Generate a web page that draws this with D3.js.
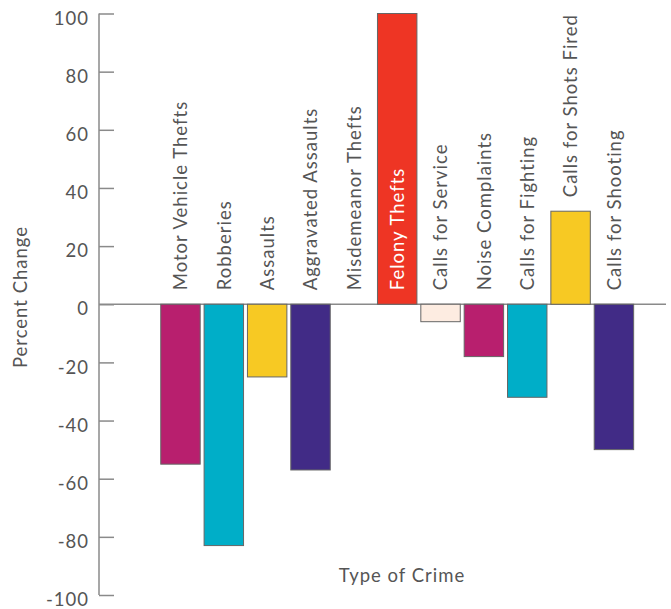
<!DOCTYPE html>
<html>
<head>
<meta charset="utf-8">
<script src="https://cdn.jsdelivr.net/npm/d3@7"></script>
<style>
  html, body { margin: 0; padding: 0; background: #fff; }
  svg { display: block; font-family: Lato, "Open Sans", sans-serif; }
  svg text { letter-spacing: 1px; }
</style>
</head>
<body>
<svg id="chart" width="671" height="609"></svg>
<script>
// Percent change by type of crime
const categories = [
  "Motor Vehicle Thefts", "Robberies", "Assaults", "Aggravated Assaults",
  "Misdemeanor Thefts", "Felony Thefts", "Calls for Service", "Noise Complaints",
  "Calls for Fighting", "Calls for Shots Fired", "Calls for Shooting"
];
const values = [-55, -83, -25, -57, 0, 100, -6, -18, -32, 32, -50];
const barColors = [
  "#b81f6e", "#00aec8", "#f7c923", "#412b86", "#b81f6e", "#ee3524",
  "#fdece1", "#b81f6e", "#00aec8", "#f7c923", "#412b86"
];
const yTicks = [100, 80, 60, 40, 20, 0, -20, -40, -60, -80, -100];
const yTitle = "Percent Change";
const xTitle = "Type of Crime";

const svg = d3.select("#chart");
const textColor = "#555";
const fontSize = 18.5;

const y = d3.scaleLinear().domain([-100, 100]).range([595, 13.5]);
const x = d3.scaleBand()
  .domain(categories)
  .range([158.8, 635.6])
  .paddingInner(0.09)
  .paddingOuter(0.045);

// Y axis with ticks pointing into the plot; plain hyphen for negatives
const yAxis = d3.axisRight(y).tickValues(yTicks).tickSize(15).tickFormat(d => String(d));
const gy = svg.append("g").attr("transform", "translate(99,0)").call(yAxis);
gy.select(".domain").attr("stroke", "#8a8a8a").attr("stroke-width", 1.5)
  .attr("d", `M0,${y(100)}V${y(-100)}`);
gy.selectAll(".tick line").attr("stroke", "#8a8a8a").attr("stroke-width", 1.5);
gy.selectAll(".tick text")
  .attr("x", -10).attr("dy", "0.58em")
  .attr("text-anchor", "end")
  .attr("fill", textColor)
  .style("font-size", fontSize + "px")
  .style("font-family", "Lato, sans-serif");

// Zero baseline across the plot
svg.append("line")
  .attr("x1", 99).attr("x2", 666)
  .attr("y1", y(0)).attr("y2", y(0))
  .attr("stroke", "#8a8a8a").attr("stroke-width", 1.5);

// Bars
svg.append("g").selectAll("rect")
  .data(categories.map((c, i) => ({ c, v: values[i], col: barColors[i] })))
  .join("rect")
  .filter(d => d.v !== 0)
  .attr("x", d => x(d.c))
  .attr("width", x.bandwidth())
  .attr("y", d => y(Math.max(0, d.v)))
  .attr("height", d => Math.abs(y(d.v) - y(0)))
  .attr("fill", d => d.col)
  .attr("stroke", "#666")
  .attr("stroke-width", 1);

// Category labels, rotated, sitting above the bar top (or inside if no room)
const labels = svg.append("g").selectAll("text")
  .data(categories.map((c, i) => ({ c, v: values[i] })))
  .join("text")
  .text(d => d.c)
  .attr("text-anchor", "start")
  .attr("fill", textColor)
  .style("font-size", fontSize + "px");

labels.each(function(d) {
  const len = this.getComputedTextLength();
  const top = y(Math.max(0, d.v));
  let start = top - 14;
  let color = textColor;
  if (start - len < 0) {
    start = y(0) - 14;
    color = "#fff";
  }
  const cx = x(d.c) + x.bandwidth() / 2 + 6.7;
  d3.select(this)
    .attr("transform", `translate(${cx},${start}) rotate(-90)`)
    .attr("fill", color);
});

// Axis titles
svg.append("text")
  .attr("transform", `translate(27,297) rotate(-90)`)
  .attr("text-anchor", "middle")
  .attr("fill", textColor)
  .style("font-size", fontSize + "px")
  .text(yTitle);

svg.append("text")
  .attr("x", 402).attr("y", 581.7)
  .attr("text-anchor", "middle")
  .attr("fill", textColor)
  .style("font-size", fontSize + "px")
  .text(xTitle);
</script>
</body>
</html>
